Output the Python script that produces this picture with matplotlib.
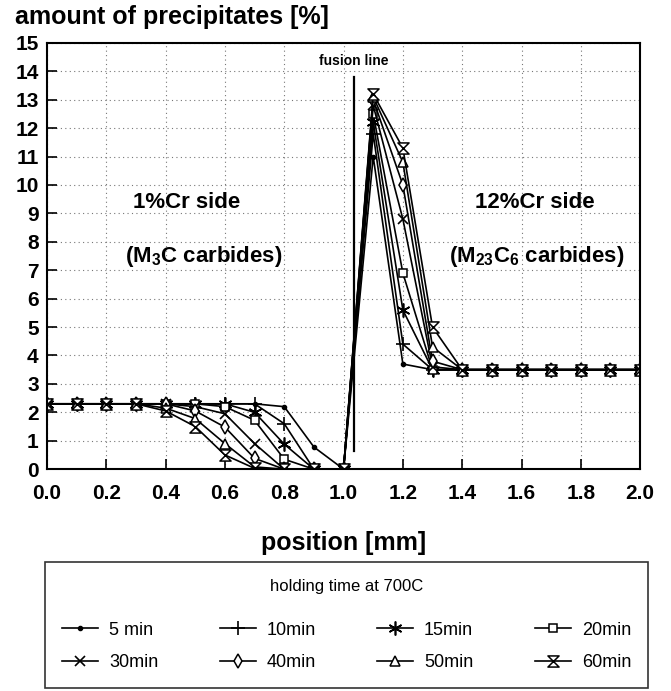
import numpy as np
import matplotlib
matplotlib.use("Agg")
import matplotlib.pyplot as plt
from matplotlib.path import Path

plt.rcParams['font.family'] = ['Liberation Sans', 'DejaVu Sans']

# position [mm], 0.0 .. 2.0 step 0.1
position = [0.0, 0.1, 0.2, 0.3, 0.4, 0.5, 0.6, 0.7, 0.8, 0.9, 1.0,
            1.1, 1.2, 1.3, 1.4, 1.5, 1.6, 1.7, 1.8, 1.9, 2.0]

min5 = [2.3, 2.3, 2.3, 2.3, 2.3, 2.3, 2.3, 2.3, 2.2, 0.78, 0.0,
        11.0, 3.7, 3.5, 3.5, 3.5, 3.5, 3.5, 3.5, 3.5, 3.5]
min10 = [2.3, 2.3, 2.3, 2.3, 2.3, 2.3, 2.3, 2.3, 1.6, 0.0, 0.0,
         11.8, 4.4, 3.5, 3.5, 3.5, 3.5, 3.5, 3.5, 3.5, 3.5]
min15 = [2.3, 2.3, 2.3, 2.3, 2.3, 2.3, 2.3, 2.0, 0.88, 0.0, 0.0,
         12.2, 5.6, 3.5, 3.5, 3.5, 3.5, 3.5, 3.5, 3.5, 3.5]
min20 = [2.3, 2.3, 2.3, 2.3, 2.3, 2.3, 2.2, 1.72, 0.35, 0.0, 0.0,
         12.5, 6.9, 3.5, 3.5, 3.5, 3.5, 3.5, 3.5, 3.5, 3.5]
min30 = [2.3, 2.3, 2.3, 2.3, 2.3, 2.2, 1.95, 0.9, 0.0, 0.0, 0.0,
         12.8, 8.8, 3.6, 3.5, 3.5, 3.5, 3.5, 3.5, 3.5, 3.5]
min40 = [2.3, 2.3, 2.3, 2.3, 2.3, 2.05, 1.48, 0.38, 0.0, 0.0, 0.0,
         13.0, 10.0, 3.8, 3.5, 3.5, 3.5, 3.5, 3.5, 3.5, 3.5]
min50 = [2.3, 2.3, 2.3, 2.3, 2.15, 1.78, 0.9, 0.08, 0.0, 0.0, 0.0,
         13.1, 10.8, 4.3, 3.5, 3.5, 3.5, 3.5, 3.5, 3.5, 3.5]
min60 = [2.3, 2.3, 2.3, 2.3, 2.05, 1.5, 0.5, 0.03, 0.0, 0.0, 0.0,
         13.2, 11.3, 5.0, 3.5, 3.5, 3.5, 3.5, 3.5, 3.5, 3.5]

labels = ["5 min", "10min", "15min", "20min", "30min", "40min", "50min", "60min"]

fusion_x = 1.035
fusion_y = [0.65, 13.8]

# hourglass marker
hourglass = Path([(-1, 1), (1, 1), (-1, -1), (1, -1), (-1, 1)],
                 [Path.MOVETO, Path.LINETO, Path.LINETO, Path.LINETO, Path.CLOSEPOLY])

styles = [
    dict(marker='.', ms=6),
    dict(marker='+', ms=10, mew=1.2),
    dict(marker=(6, 2, 0), ms=10, mew=1.2),
    dict(marker='s', ms=6, mfc='white', mew=1.1),
    dict(marker='x', ms=7, mew=1.2),
    dict(marker='d', ms=7, mfc='white', mew=1.1),
    dict(marker='^', ms=7, mfc='white', mew=1.1),
    dict(marker=hourglass, ms=8, mfc='white', mew=1.1),
]

series = [min5, min10, min15, min20, min30, min40, min50, min60]

fig = plt.figure(figsize=(6.71, 6.91), dpi=100)
ax = fig.add_axes([0.070, 0.321, 0.884, 0.617])

handles = []
for s, lab, st in zip(series, labels, styles):
    h, = ax.plot(position, s, color='black', lw=1.2, label=lab, **st)
    handles.append(h)

ax.plot([fusion_x, fusion_x], fusion_y, color='black', lw=1.6)
ax.text(fusion_x, 14.35, "fusion line", ha='center', va='center',
        fontsize=10, fontweight='bold')

tk = dict(ha='center', va='center', fontsize=16, fontweight='bold')
ax.text(0.47, 9.4, "1%Cr side", **tk)
ax.text(0.53, 7.5, r"(M$\mathregular{_3}$C carbides)", **tk)
ax.text(1.645, 9.4, "12%Cr side", **tk)
ax.text(1.65, 7.5, r"(M$\mathregular{_{23}}$C$\mathregular{_6}$ carbides)", **tk)

ax.set_xlim(0, 2.0)
ax.set_ylim(0, 15)
ax.set_xticks(np.arange(0, 2.01, 0.2))
ax.set_xticklabels([f"{v:.1f}" for v in np.arange(0, 2.01, 0.2)])
ax.set_yticks(range(0, 16))
ax.tick_params(direction='in', length=7, width=1.2, labelsize=15, pad=6)
ax.tick_params(axis='x', pad=11)
for t in ax.get_xticklabels() + ax.get_yticklabels():
    t.set_fontweight('bold')
ax.grid(True, color='#777777', lw=0.8, ls=(0, (1, 3)))
for sp in ax.spines.values():
    sp.set_linewidth(1.5)

ax.set_xlabel("position [mm]", fontsize=18, fontweight='bold', labelpad=20)
fig.text(0.022, 0.975, "amount of precipitates [%]", fontsize=18, fontweight='bold',
         ha='left', va='center')

order = [0, 4, 1, 5, 2, 6, 3, 7]
leg = fig.legend([handles[i] for i in order], [labels[i] for i in order],
                 loc='lower left', bbox_to_anchor=(0.067, 0.004, 0.899, 0.19),
                 mode='expand', ncol=4, fontsize=13, title="holding time at 700C",
                 title_fontsize=12, frameon=True, fancybox=False, edgecolor='black',
                 handlelength=2.0, handletextpad=0.6, borderpad=0.95,
                 labelspacing=0.85, borderaxespad=0)
leg.get_frame().set_linewidth(1.2)
leg._legend_box.sep = 20

fig.savefig("out.png", dpi=100)
